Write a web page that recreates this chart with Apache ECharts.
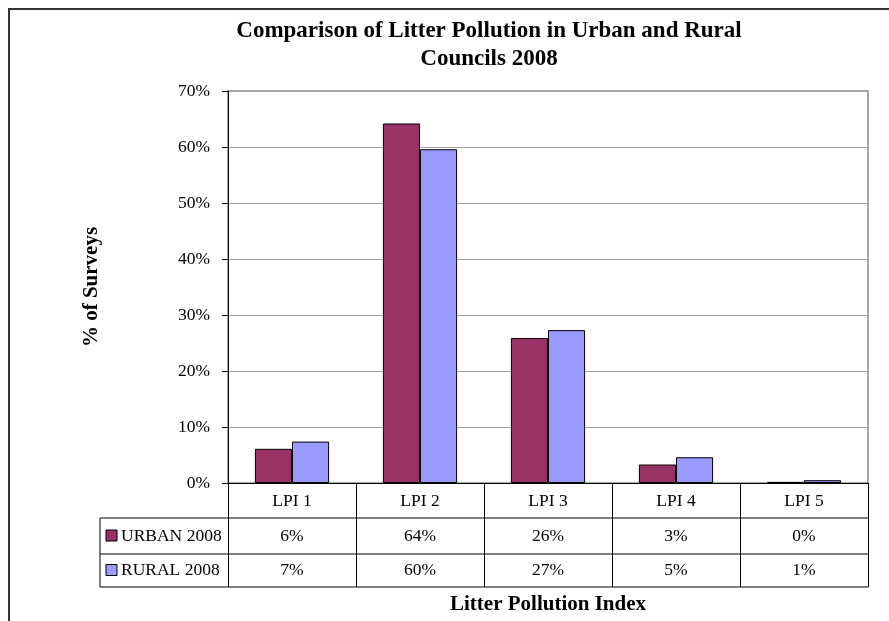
<!DOCTYPE html>
<html>
<head>
<meta charset="utf-8">
<script src="https://cdn.jsdelivr.net/npm/echarts@6/dist/echarts.min.js"></script>
<style>
html,body{margin:0;padding:0;background:#fff;}
#main{width:889px;height:621px;}
</style>
</head>
<body>
<div id="main"></div>
<script>
// ---- data ----
const categories = ['LPI 1', 'LPI 2', 'LPI 3', 'LPI 4', 'LPI 5'];
const seriesNames = ['URBAN 2008', 'RURAL 2008'];
const urban2008 = [6.1, 64.2, 25.9, 3.3, 0.2];
const rural2008 = [7.4, 59.6, 27.3, 4.6, 0.5];
const yTicks = [0, 10, 20, 30, 40, 50, 60, 70];
const titleLines = ['Comparison of Litter Pollution in Urban and Rural', 'Councils 2008'];
const yTitle = '% of Surveys';
const xTitle = 'Litter Pollution Index';

const serif = "'Liberation Serif','Times New Roman',serif";
const colors = ['#993366', '#9999FF'];
const chart = echarts.init(document.getElementById('main'), null, {renderer: 'canvas'});

const option = {
  animation: false,
  backgroundColor: '#ffffff',
  title: {
    text: titleLines.join('\n'),
    left: 484, top: 12, textAlign: 'center',
    textStyle: {fontFamily: serif, fontWeight: 'bold', fontSize: 23, lineHeight: 28, color: '#000'}
  },
  grid: {left: 228, right: 21, top: 91, bottom: 138, show: true, borderColor: '#8c8c8c', borderWidth: 1.5, backgroundColor: 'transparent'},
  xAxis: {
    type: 'category',
    data: categories,
    axisLine: {lineStyle: {color: '#000', width: 1}},
    axisTick: {show: true, length: 104, lineStyle: {color: '#000', width: 1}},
    axisLabel: {margin: 9, fontFamily: serif, fontSize: 17.5, color: '#000'}
  },
  yAxis: {
    type: 'value',
    min: yTicks[0], max: yTicks[yTicks.length - 1], interval: 10,
    name: yTitle, nameLocation: 'middle', nameGap: 126, nameRotate: 90,
    nameTextStyle: {fontFamily: serif, fontWeight: 'bold', fontSize: 21, color: '#000'},
    axisLine: {show: true, lineStyle: {color: '#000', width: 1}},
    axisTick: {show: true, length: 6, lineStyle: {color: '#000'}},
    axisLabel: {margin: 18, formatter: '{value}%', fontFamily: serif, fontSize: 17.5, color: '#000'},
    splitLine: {lineStyle: {color: '#a0a0a0', width: 1}}
  },
  series: [
    {name: seriesNames[0], type: 'bar', data: urban2008, barGap: '0%', barCategoryGap: '42%',
     itemStyle: {color: colors[0], borderColor: '#000', borderWidth: 1}},
    {name: seriesNames[1], type: 'bar', data: rural2008, barGap: '0%', barCategoryGap: '42%',
     itemStyle: {color: colors[1], borderColor: '#000', borderWidth: 1}}
  ]
};
chart.setOption(option);

// ---- data table & frame built from the arrays ----
const rows = [urban2008, rural2008];
const rowLines = [518, 554, 587];
const rowCenters = [536, 570.5];
const tableLeft = 100;
const plotRight = 868;
const g = [];
// outer chart border (top & left visible)
g.push({type: 'rect', shape: {x: 9, y: 9, width: 1000, height: 800}, style: {fill: 'none', stroke: '#333', lineWidth: 2}, z: 100});
// horizontal table lines
rowLines.forEach(y => g.push({type: 'line', shape: {x1: tableLeft, y1: y, x2: plotRight, y2: y}, style: {stroke: '#000', lineWidth: 1}, z: 50}));
// left border of legend column
g.push({type: 'line', shape: {x1: tableLeft, y1: rowLines[0], x2: tableLeft, y2: rowLines[2]}, style: {stroke: '#000', lineWidth: 1}, z: 50});
// values & legend keys
rows.forEach((vals, r) => {
  const cy = rowCenters[r];
  g.push({type: 'rect', shape: {x: 106, y: cy - 6, width: 11, height: 11}, style: {fill: colors[r], stroke: '#000', lineWidth: 1}, z: 50});
  g.push({type: 'text', x: 121, y: cy, style: {text: seriesNames[r], font: '17.5px ' + serif, fill: '#000', align: 'left', verticalAlign: 'middle'}, z: 50});
  vals.forEach((v, i) => {
    const x = chart.convertToPixel({xAxisIndex: 0}, categories[i]);
    g.push({type: 'text', x: x, y: cy, style: {text: Math.round(v) + '%', font: '17.5px ' + serif, fill: '#000', align: 'center', verticalAlign: 'middle'}, z: 50});
  });
});
// x axis title
const xMid = (chart.convertToPixel({xAxisIndex: 0}, categories[0]) + chart.convertToPixel({xAxisIndex: 0}, categories[categories.length - 1])) / 2;
g.push({type: 'text', x: xMid, y: 605, style: {text: xTitle, font: 'bold 21px ' + serif, fill: '#000', align: 'center', verticalAlign: 'middle'}, z: 50});
chart.setOption({graphic: g});
</script>
</body>
</html>
